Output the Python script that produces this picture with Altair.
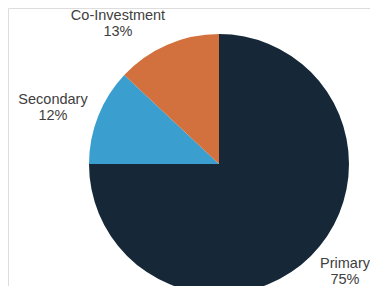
import altair as alt
import pandas as pd

categories = ["Primary", "Secondary", "Co-Investment"]
shares = [75, 12, 13]
colors = ["#162838", "#3A9FCF", "#D2703E"]

# label anchor positions (pixels in chart coordinates, first-line baseline)
label_x = [337, 45, 110]
label_y = [260, 96, 12]

df = pd.DataFrame({
    "category": categories,
    "share": shares,
    "order": list(range(len(categories))),
    "label": [f"{c}\n{s}%" for c, s in zip(categories, shares)],
    "lx": label_x,
    "ly": label_y,
})

pie = alt.Chart(df).mark_arc(x=211, y=156, radius=130, stroke=None).encode(
    theta=alt.Theta("share:Q", stack=True),
    color=alt.Color("category:N", scale=alt.Scale(domain=categories, range=colors), legend=None),
    order=alt.Order("order:Q"),
)

labels = alt.Chart(df).mark_text(
    font="Liberation Sans", fontSize=14.5, color="#404040", lineBreak="\n",
    align="center", baseline="alphabetic", lineHeight=16,
).encode(
    x=alt.X("lx:Q", scale=None),
    y=alt.Y("ly:Q", scale=None),
    text="label:N",
)

chart = alt.layer(pie, labels).properties(
    width=362, height=278, padding=0, autosize=alt.AutoSizeParams(type="none")
).configure_view(stroke=None).configure(background="white")

chart.save("out.html", embed_options={"renderer": "svg", "actions": False})
